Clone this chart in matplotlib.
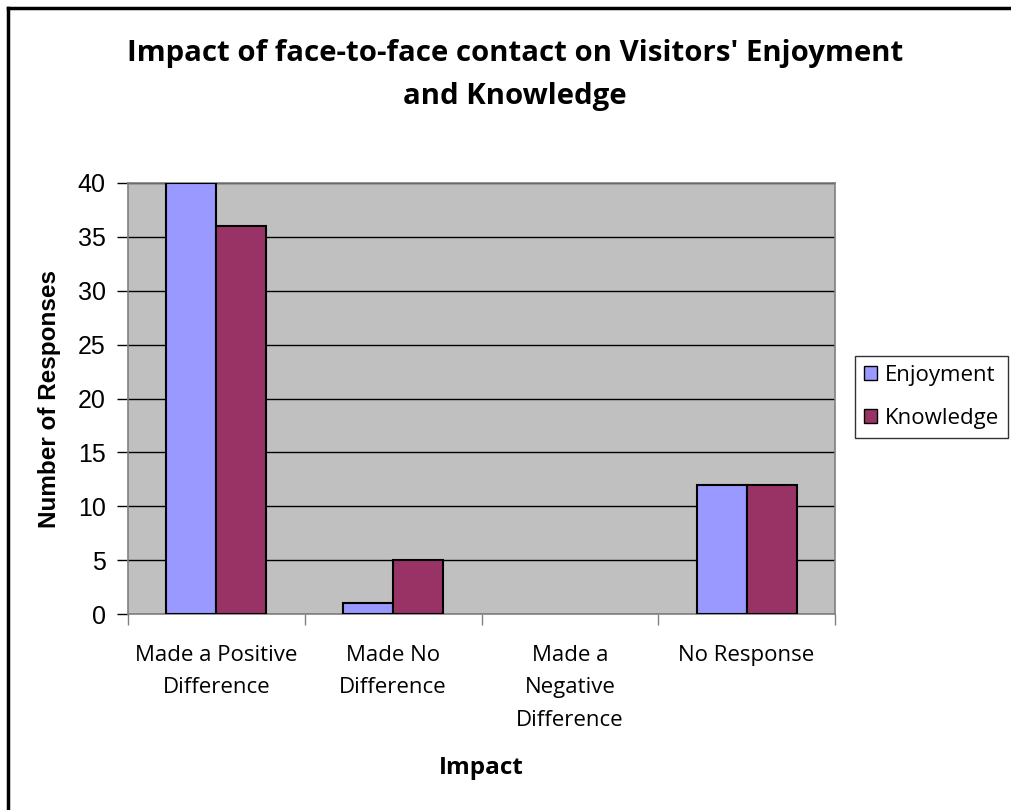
import matplotlib
matplotlib.use("Agg")
import matplotlib.pyplot as plt
import numpy as np
from matplotlib.lines import Line2D
from matplotlib.patches import Patch

categories = ["Made a Positive\nDifference", "Made No\nDifference", "Made a\nNegative\nDifference", "No Response"]
enjoyment = [40, 1, 0, 12]
knowledge = [36, 5, 0, 12]
series_names = ["Enjoyment", "Knowledge"]
yticks = [0, 5, 10, 15, 20, 25, 30, 35, 40]

W, H = 1011, 810
fig = plt.figure(figsize=(W / 100, H / 100), dpi=100)
fig.patch.set_facecolor("white")

x0, x1 = 128, 835
y_top, y_bot = 183, 614
ax = fig.add_axes([x0 / W, 1 - y_bot / H, (x1 - x0) / W, (y_bot - y_top) / H])
ax.set_facecolor("#C0C0C0")

x = np.arange(len(categories))
bw = 0.283
colors = ["#9999FF", "#993366"]
for vals, off, col in [(enjoyment, -bw / 2, colors[0]), (knowledge, bw / 2, colors[1])]:
    bars = ax.bar(x + off, vals, bw, color=col, edgecolor="black", linewidth=1.5, zorder=3)
    for b, v in zip(bars, vals):
        if v == 0:
            b.set_visible(False)

ax.set_xlim(-0.5, len(categories) - 0.5)
ax.set_ylim(0, 40)
ax.set_yticks(yticks)
ax.yaxis.grid(True, color="black", linewidth=1.0, zorder=0)
ax.set_axisbelow(True)

for s in ["top", "right", "left", "bottom"]:
    ax.spines[s].set_color("#808080")
    ax.spines[s].set_linewidth(1.2)

ax.tick_params(axis="y", direction="out", length=8, width=1, color="black", pad=8)
for lbl in ax.get_yticklabels():
    lbl.set_fontfamily("Liberation Sans")
    lbl.set_fontsize(18)

ax.set_xticks(np.arange(-0.5, len(categories), 1.0))
ax.set_xticklabels([])
ax.tick_params(axis="x", which="major", direction="out", length=8, width=1, color="#808080")
ax.set_xticks(x, minor=True)
ax.set_xticklabels(categories, minor=True, fontfamily="Open Sans", fontsize=16, linespacing=1.72)
ax.tick_params(axis="x", which="minor", length=0, pad=22)

ax.set_ylabel("Number of Responses", fontfamily="Liberation Sans", fontweight="bold", fontsize=17.5, labelpad=12)

fig.text(481 / W, 1 - 768 / H, "Impact", ha="center", va="center",
         fontfamily="Open Sans", fontweight="bold", fontsize=17.5)

fig.text(515 / W, 1 - 75 / H, "Impact of face-to-face contact on Visitors' Enjoyment\nand Knowledge",
         ha="center", va="center", fontfamily="Open Sans", fontweight="bold", fontsize=21.2, linespacing=1.6)

handles = [Patch(facecolor=colors[0], edgecolor="black"), Patch(facecolor=colors[1], edgecolor="black")]
leg = fig.legend(handles, series_names, loc="center left", bbox_to_anchor=(855 / W, 1 - 397 / H),
                 prop={"family": "Open Sans", "size": 16}, frameon=True, fancybox=False,
                 edgecolor="black", handlelength=0.6, handleheight=0.6, handletextpad=0.35,
                 labelspacing=1.0, borderpad=0.4, borderaxespad=0)
leg.get_frame().set_linewidth(1.0)

fig.add_artist(Line2D([8 / W, 8 / W], [0, 1 - 8 / H], transform=fig.transFigure, color="black", linewidth=2.5))
fig.add_artist(Line2D([8 / W, 1], [1 - 8 / H, 1 - 8 / H], transform=fig.transFigure, color="black", linewidth=2.5))

fig.savefig("out.png", dpi=100)
